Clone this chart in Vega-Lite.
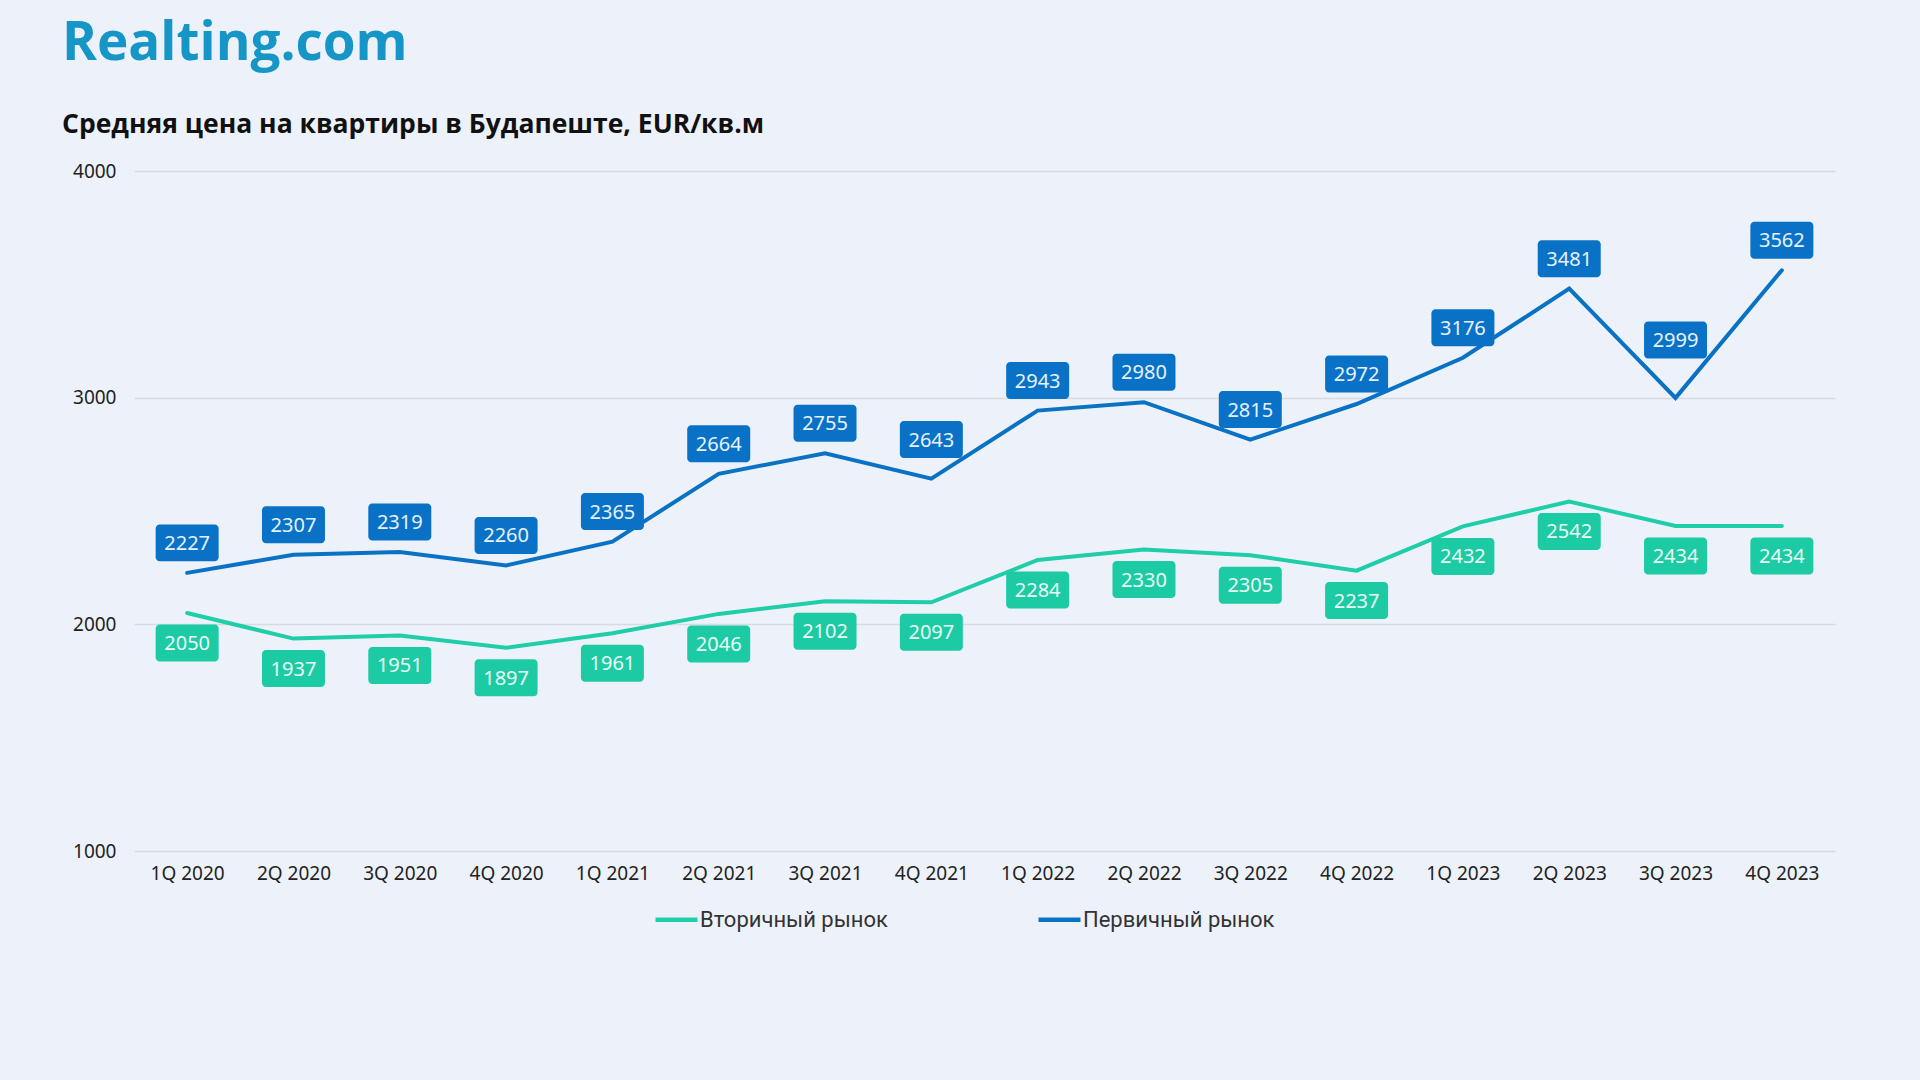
{
  "$schema": "https://vega.github.io/schema/vega-lite/v6.json",
  "width": 1701,
  "height": 680,
  "autosize": {"type": "none"},
  "padding": {"left": 134, "top": 171, "right": 85, "bottom": 229},
  "background": "#EDF2FA",
  "config": {"view": {"stroke": null}},
  "title": {
    "text": "Realting.com",
    "subtitle": "Средняя цена на квартиры в Будапеште, EUR/кв.м",
    "anchor": "start",
    "frame": "group",
    "dx": -72,
    "offset": 24,
    "font": "Open Sans",
    "fontSize": 53,
    "fontWeight": "bold",
    "color": "#1596C6",
    "subtitleFont": "Open Sans",
    "subtitleFontSize": 26.5,
    "subtitleFontWeight": "bold",
    "subtitleColor": "#111111",
    "subtitlePadding": 41
  },
  "data": {
    "values": [
      {"q": "1Q 2020", "series": "Вторичный рынок", "value": 2050},
      {"q": "2Q 2020", "series": "Вторичный рынок", "value": 1937},
      {"q": "3Q 2020", "series": "Вторичный рынок", "value": 1951},
      {"q": "4Q 2020", "series": "Вторичный рынок", "value": 1897},
      {"q": "1Q 2021", "series": "Вторичный рынок", "value": 1961},
      {"q": "2Q 2021", "series": "Вторичный рынок", "value": 2046},
      {"q": "3Q 2021", "series": "Вторичный рынок", "value": 2102},
      {"q": "4Q 2021", "series": "Вторичный рынок", "value": 2097},
      {"q": "1Q 2022", "series": "Вторичный рынок", "value": 2284},
      {"q": "2Q 2022", "series": "Вторичный рынок", "value": 2330},
      {"q": "3Q 2022", "series": "Вторичный рынок", "value": 2305},
      {"q": "4Q 2022", "series": "Вторичный рынок", "value": 2237},
      {"q": "1Q 2023", "series": "Вторичный рынок", "value": 2432},
      {"q": "2Q 2023", "series": "Вторичный рынок", "value": 2542},
      {"q": "3Q 2023", "series": "Вторичный рынок", "value": 2434},
      {"q": "4Q 2023", "series": "Вторичный рынок", "value": 2434},
      {"q": "1Q 2020", "series": "Первичный рынок", "value": 2227},
      {"q": "2Q 2020", "series": "Первичный рынок", "value": 2307},
      {"q": "3Q 2020", "series": "Первичный рынок", "value": 2319},
      {"q": "4Q 2020", "series": "Первичный рынок", "value": 2260},
      {"q": "1Q 2021", "series": "Первичный рынок", "value": 2365},
      {"q": "2Q 2021", "series": "Первичный рынок", "value": 2664},
      {"q": "3Q 2021", "series": "Первичный рынок", "value": 2755},
      {"q": "4Q 2021", "series": "Первичный рынок", "value": 2643},
      {"q": "1Q 2022", "series": "Первичный рынок", "value": 2943},
      {"q": "2Q 2022", "series": "Первичный рынок", "value": 2980},
      {"q": "3Q 2022", "series": "Первичный рынок", "value": 2815},
      {"q": "4Q 2022", "series": "Первичный рынок", "value": 2972},
      {"q": "1Q 2023", "series": "Первичный рынок", "value": 3176},
      {"q": "2Q 2023", "series": "Первичный рынок", "value": 3481},
      {"q": "3Q 2023", "series": "Первичный рынок", "value": 2999},
      {"q": "4Q 2023", "series": "Первичный рынок", "value": 3562}
    ]
  },
  "encoding": {
    "x": {
      "field": "q",
      "type": "ordinal",
      "sort": null,
      "scale": {"type": "point", "padding": 0.5},
      "axis": {
        "title": null,
        "labelAngle": 0,
        "domain": false,
        "ticks": false,
        "labelPadding": 13,
        "labelFont": "Noto Sans",
        "labelFontSize": 19,
        "labelColor": "#222222"
      }
    },
    "y": {
      "field": "value",
      "type": "quantitative",
      "scale": {"domain": [1000, 4000], "nice": false, "zero": false},
      "axis": {
        "title": null,
        "values": [1000, 2000, 3000, 4000],
        "format": "d",
        "domain": false,
        "ticks": false,
        "labelPadding": 18,
        "labelFont": "Noto Sans",
        "labelFontSize": 19,
        "labelColor": "#222222",
        "gridColor": "#D6DAE1",
        "gridWidth": 1.5
      }
    }
  },
  "layer": [
    {
      "mark": {"type": "line", "strokeWidth": 4, "strokeCap": "round", "strokeJoin": "miter"},
      "encoding": {
        "color": {
          "field": "series",
          "type": "nominal",
          "scale": {"domain": ["Вторичный рынок", "Первичный рынок"], "range": ["#1FCDA8", "#0A72C4"]},
          "legend": {
            "title": null,
            "orient": "none",
            "direction": "horizontal",
            "legendX": 519,
            "legendY": 725,
            "symbolType": "stroke",
            "symbolSize": 1764,
            "symbolStrokeWidth": 4.5,
            "labelOffset": 0,
            "columnPadding": 141,
            "labelLimit": 0,
            "labelFont": "Roboto",
            "labelFontSize": 22,
            "labelColor": "#333333"
          }
        }
      }
    },
    {
      "transform": [{"filter": "datum.series == 'Вторичный рынок'"}],
      "layer": [
        {
          "mark": {"type": "point", "shape": "M-0.873,-0.587H0.873A0.127,0.127 0 0 1 1,-0.46V0.46A0.127,0.127 0 0 1 0.873,0.587H-0.873A0.127,0.127 0 0 1 -1,0.46V-0.46A0.127,0.127 0 0 1 -0.873,-0.587Z", "size": 3969, "filled": true, "fill": "#1CCBA4", "opacity": 1, "strokeWidth": 0, "yOffset": 30}
        },
        {
          "mark": {"type": "text", "font": "Noto Sans", "fontSize": 20, "color": "#EAFBF6", "baseline": "middle", "align": "center", "yOffset": 31},
          "encoding": {"text": {"field": "value", "type": "quantitative", "format": "d"}}
        }
      ]
    },
    {
      "transform": [{"filter": "datum.series == 'Первичный рынок' && datum.q != '4Q 2021' && datum.q != '3Q 2023'"}],
      "layer": [
        {
          "mark": {"type": "point", "shape": "M-0.873,-0.587H0.873A0.127,0.127 0 0 1 1,-0.46V0.46A0.127,0.127 0 0 1 0.873,0.587H-0.873A0.127,0.127 0 0 1 -1,0.46V-0.46A0.127,0.127 0 0 1 -0.873,-0.587Z", "size": 3969, "filled": true, "fill": "#0A72C6", "opacity": 1, "strokeWidth": 0, "yOffset": -30}
        },
        {
          "mark": {"type": "text", "font": "Noto Sans", "fontSize": 20, "color": "#E6F2FF", "baseline": "middle", "align": "center", "yOffset": -29},
          "encoding": {"text": {"field": "value", "type": "quantitative", "format": "d"}}
        }
      ]
    },
    {
      "transform": [{"filter": "datum.series == 'Первичный рынок' && datum.q == '4Q 2021'"}],
      "layer": [
        {
          "mark": {"type": "point", "shape": "M-0.873,-0.587H0.873A0.127,0.127 0 0 1 1,-0.46V0.46A0.127,0.127 0 0 1 0.873,0.587H-0.873A0.127,0.127 0 0 1 -1,0.46V-0.46A0.127,0.127 0 0 1 -0.873,-0.587Z", "size": 3969, "filled": true, "fill": "#0A72C6", "opacity": 1, "strokeWidth": 0, "yOffset": -39}
        },
        {
          "mark": {"type": "text", "font": "Noto Sans", "fontSize": 20, "color": "#E6F2FF", "baseline": "middle", "align": "center", "yOffset": -38},
          "encoding": {"text": {"field": "value", "type": "quantitative", "format": "d"}}
        }
      ]
    },
    {
      "transform": [{"filter": "datum.series == 'Первичный рынок' && datum.q == '3Q 2023'"}],
      "layer": [
        {
          "mark": {"type": "point", "shape": "M-0.873,-0.587H0.873A0.127,0.127 0 0 1 1,-0.46V0.46A0.127,0.127 0 0 1 0.873,0.587H-0.873A0.127,0.127 0 0 1 -1,0.46V-0.46A0.127,0.127 0 0 1 -0.873,-0.587Z", "size": 3969, "filled": true, "fill": "#0A72C6", "opacity": 1, "strokeWidth": 0, "yOffset": -58}
        },
        {
          "mark": {"type": "text", "font": "Noto Sans", "fontSize": 20, "color": "#E6F2FF", "baseline": "middle", "align": "center", "yOffset": -57},
          "encoding": {"text": {"field": "value", "type": "quantitative", "format": "d"}}
        }
      ]
    }
  ]
}
